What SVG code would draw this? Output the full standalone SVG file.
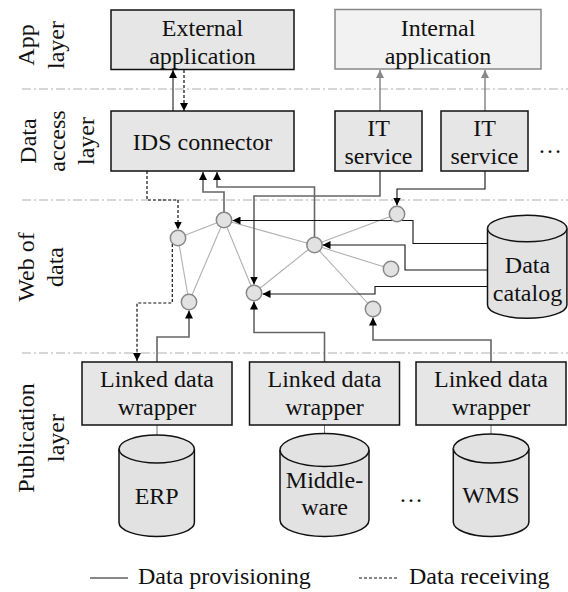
<svg xmlns="http://www.w3.org/2000/svg" width="568" height="592" viewBox="0 0 568 592" font-family="'Liberation Serif', Tinos, 'Times New Roman', 'DejaVu Serif', serif">
<style>
text{font-family:'Liberation Serif',Tinos,'Times New Roman','DejaVu Serif',serif;font-size:24px;fill:#111}
.c{text-anchor:middle}
.box{fill:#e6e6e6;stroke:#111;stroke-width:1.5}
.ibox{fill:#f2f2f2;stroke:#888;stroke-width:1.5}
.sep{stroke:#b0b0b0;stroke-width:1.2;stroke-dasharray:9 3 2 3;fill:none}
.node{fill:#e2e2e2;stroke:#888;stroke-width:1.5}
.edge{stroke:#b0b0b0;stroke-width:1.1;fill:none}
.prov{stroke:#666;stroke-width:1.6;fill:none;marker-end:url(#ah)}
.provk{stroke:#111;stroke-width:1.1;fill:none;marker-end:url(#ah)}
.recv{stroke:#111;stroke-width:1.2;stroke-dasharray:3 2;fill:none;marker-end:url(#ah)}
.gray{stroke:#888;stroke-width:1.5;fill:none;marker-end:url(#ahg)}
.link{stroke:#777;stroke-width:1;fill:none}
.db{fill:#e2e2e2;stroke:#111;stroke-width:1.5}
</style>
<defs>
<marker id="ah" viewBox="0 0 10 10" refX="10" refY="5" markerWidth="8" markerHeight="8" markerUnits="userSpaceOnUse" orient="auto"><path d="M0,0 L10,5 L0,10 z" fill="#000"/></marker>
<marker id="ahg" viewBox="0 0 10 10" refX="10" refY="5" markerWidth="8" markerHeight="8" markerUnits="userSpaceOnUse" orient="auto"><path d="M0,0 L10,5 L0,10 z" fill="#888"/></marker>
</defs>

<g id="separators">
<line class="sep" x1="22" y1="89" x2="568" y2="89"/>
<line class="sep" x1="22" y1="200" x2="568" y2="200"/>
<line class="sep" x1="22" y1="353" x2="568" y2="353"/>
</g>

<g id="layer-labels">
<text class="c" transform="translate(0,45) rotate(-90)"><tspan x="0" y="34">App</tspan><tspan x="0" y="64">layer</tspan></text>
<text class="c" transform="translate(0,141) rotate(-90)"><tspan x="0" y="36">Data</tspan><tspan x="0" y="65">access</tspan><tspan x="0" y="94">layer</tspan></text>
<text class="c" transform="translate(0,267) rotate(-90)"><tspan x="0" y="34">Web of</tspan><tspan x="0" y="63">data</tspan></text>
<text class="c" transform="translate(0,438) rotate(-90)"><tspan x="0" y="34">Publication</tspan><tspan x="0" y="64">layer</tspan></text>
</g>

<g id="edges">
<line class="edge" x1="178" y1="238" x2="224" y2="220"/>
<line class="edge" x1="178" y1="238" x2="189" y2="302"/>
<line class="edge" x1="189" y1="302" x2="224" y2="220"/>
<line class="edge" x1="224" y1="220" x2="254" y2="293"/>
<line class="edge" x1="224" y1="220" x2="314" y2="245"/>
<line class="edge" x1="314" y1="245" x2="254" y2="293"/>
<line class="edge" x1="314" y1="245" x2="397" y2="214"/>
<line class="edge" x1="314" y1="245" x2="391" y2="269"/>
<line class="edge" x1="314" y1="245" x2="373" y2="309"/>
</g>

<g id="connectors">
<path class="prov" d="M173,111 V70"/>
<path class="recv" d="M184,70 V111"/>
<path class="gray" d="M380,111 V70"/>
<path class="gray" d="M485,111 V70"/>
<path class="prov" d="M224,212 V192 H203 V172"/>
<path class="prov" d="M314.5,237 V187 H217 V172"/>
<path class="prov" d="M380,171 V196 H254 V284.5"/>
<path class="provk" d="M485,171 V189 H397 V205.5"/>
<path class="provk" d="M487,243.5 H413 V220.5 H232.5"/>
<path class="provk" d="M487,270 H405 V245 H322.5"/>
<path class="provk" d="M487,286.5 H375 V294 H262.5"/>
<path class="prov" d="M491,362 V340 H373 V317.5"/>
<path class="prov" d="M324.5,362 V332.5 H254 V301.5"/>
<path class="prov" d="M157,362 V337 H189 V310.5"/>
<path class="recv" d="M147,171 V200 H178 V229.5"/>
<path class="recv" d="M172.3,244 V303 H137 V361"/>
<line class="link" x1="157" y1="425" x2="157" y2="435"/>
<line class="link" x1="324.5" y1="425" x2="324.5" y2="433"/>
<line class="link" x1="491" y1="425" x2="491" y2="434"/>
</g>

<g id="ext-app"><rect class="box" x="111" y="10" width="183" height="59.5"/><text class="c"><tspan x="202.5" y="36">External</tspan><tspan x="202.5" y="64">application</tspan></text></g>
<g id="int-app"><rect class="ibox" x="335" y="9.5" width="206" height="59.5"/><text class="c"><tspan x="438" y="36">Internal</tspan><tspan x="438" y="64">application</tspan></text></g>
<g id="ids"><rect class="box" x="111" y="111" width="183" height="60"/><text class="c" x="202.5" y="150">IDS connector</text></g>
<g id="it1"><rect class="box" x="335" y="111" width="87" height="60"/><text class="c"><tspan x="378.5" y="136">IT</tspan><tspan x="378.5" y="164">service</tspan></text></g>
<g id="it2"><rect class="box" x="441" y="111" width="87" height="60"/><text class="c"><tspan x="484.5" y="136">IT</tspan><tspan x="484.5" y="164">service</tspan></text></g>
<g id="dots1"><text class="c" x="550" y="153">…</text></g>

<g id="nodes">
<circle id="nA" class="node" cx="178" cy="238" r="7.7"/>
<circle id="nB" class="node" cx="224" cy="220" r="7.7"/>
<circle id="nC" class="node" cx="189" cy="302" r="7.7"/>
<circle id="nD" class="node" cx="254" cy="293" r="7.7"/>
<circle id="nE" class="node" cx="314.5" cy="245" r="7.7"/>
<circle id="nF" class="node" cx="397" cy="214" r="7.7"/>
<circle id="nG" class="node" cx="391" cy="269" r="7.7"/>
<circle id="nH" class="node" cx="373" cy="309" r="7.7"/>
</g>

<g id="catalog">
<path class="db" d="M487.5,228.5 V305 A39.7,13.3 0 0 0 566.9,305 V228.5 A39.7,13.3 0 0 0 487.5,228.5 Z"/>
<path class="db" d="M487.5,228.5 A39.7,13.3 0 0 0 566.9,228.5" fill="none"/>
<text class="c"><tspan x="527.5" y="273">Data</tspan><tspan x="527.5" y="301">catalog</tspan></text>
</g>

<g id="wrap1"><rect class="box" x="82" y="362" width="150" height="63"/><text class="c"><tspan x="157" y="387">Linked data</tspan><tspan x="157" y="415">wrapper</tspan></text></g>
<g id="wrap2"><rect class="box" x="249.5" y="362" width="150" height="63"/><text class="c"><tspan x="324.5" y="387">Linked data</tspan><tspan x="324.5" y="415">wrapper</tspan></text></g>
<g id="wrap3"><rect class="box" x="416" y="362" width="150" height="63"/><text class="c"><tspan x="491" y="387">Linked data</tspan><tspan x="491" y="415">wrapper</tspan></text></g>

<g id="erp">
<path class="db" d="M119,449 V522.5 A37.7,14 0 0 0 194.4,522.5 V449 A37.7,14 0 0 0 119,449 Z"/>
<path class="db" d="M119,449 A37.7,14 0 0 0 194.4,449" fill="none"/>
<text class="c" x="156.7" y="504">ERP</text>
</g>
<g id="middleware">
<path class="db" d="M280,450 V520 A44.5,16.5 0 0 0 369,520 V450 A44.5,16.5 0 0 0 280,450 Z"/>
<path class="db" d="M280,450 A44.5,16.5 0 0 0 369,450" fill="none"/>
<text class="c"><tspan x="324.5" y="488">Middle-</tspan><tspan x="324.5" y="515">ware</tspan></text>
</g>
<g id="dots2"><text class="c" x="411" y="502">…</text></g>
<g id="wms">
<path class="db" d="M453.3,448.5 V522 A37.8,14.5 0 0 0 528.9,522 V448.5 A37.8,14.5 0 0 0 453.3,448.5 Z"/>
<path class="db" d="M453.3,448.5 A37.8,14.5 0 0 0 528.9,448.5" fill="none"/>
<text class="c" x="491" y="503">WMS</text>
</g>

<g id="legend">
<line x1="90" y1="578" x2="128" y2="578" stroke="#111" stroke-width="1.1"/>
<text x="138" y="584">Data provisioning</text>
<line x1="359" y1="578" x2="397" y2="578" stroke="#111" stroke-width="1.1" stroke-dasharray="3 2"/>
<text x="409" y="584">Data receiving</text>
</g>
</svg>
